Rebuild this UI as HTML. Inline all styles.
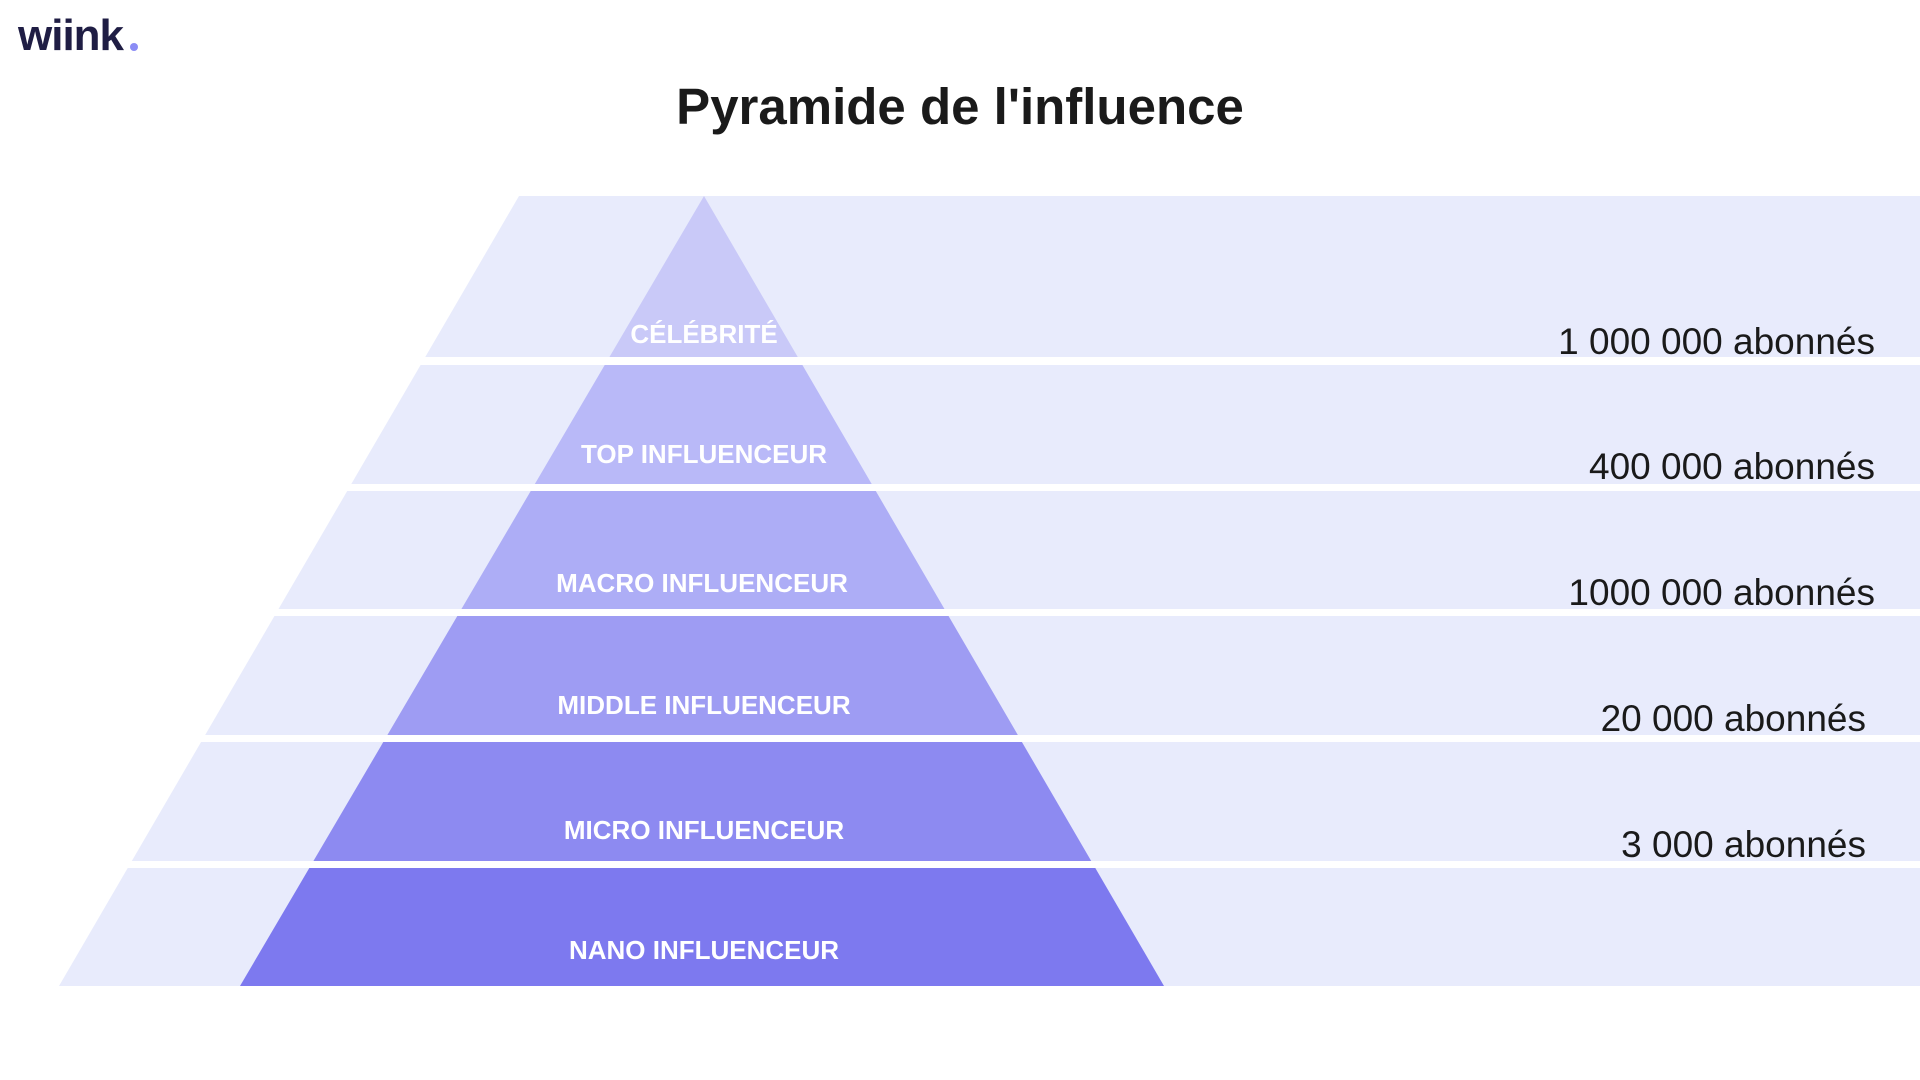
<!DOCTYPE html>
<html><head><meta charset="utf-8"><style>
html,body{margin:0;padding:0;background:#fff;}
body{width:1920px;height:1080px;position:relative;overflow:hidden;font-family:"Liberation Sans",sans-serif;}
svg{position:absolute;left:0;top:0;}
</style></head><body>
<svg width="1920" height="1080" viewBox="0 0 1920 1080">
  <text x="18" y="50" font-family="Liberation Sans, sans-serif" font-weight="bold" font-size="44" fill="#1f1d44" letter-spacing="-1">wiink</text>
  <circle cx="134" cy="47" r="4" fill="#8b8cf5"/>
  <text x="960" y="124" text-anchor="middle" font-family="Liberation Sans, sans-serif" font-weight="bold" font-size="51" fill="#1a1a1a">Pyramide de l'influence</text>

  <polygon points="519,196 1920,196 1920,986 59,986" fill="#e8ebfc"/>
  <defs><clipPath id="tri"><polygon points="704,196 1164,986 240,986"/></clipPath></defs>
  <g clip-path="url(#tri)">
    <rect x="0" y="196" width="1920" height="161" fill="#c9c9f8"/>
    <rect x="0" y="365" width="1920" height="119" fill="#b9b9f8"/>
    <rect x="0" y="491" width="1920" height="118" fill="#adadf6"/>
    <rect x="0" y="616" width="1920" height="119" fill="#9e9cf3"/>
    <rect x="0" y="742" width="1920" height="119" fill="#8d8af1"/>
    <rect x="0" y="868" width="1920" height="118" fill="#7d79ef"/>
  </g>
  <g fill="#fff">
    <rect x="0" y="357" width="1920" height="8"/>
    <rect x="0" y="484" width="1920" height="7"/>
    <rect x="0" y="609" width="1920" height="7"/>
    <rect x="0" y="735" width="1920" height="7"/>
    <rect x="0" y="861" width="1920" height="7"/>
  </g>
  <g fill="#fff" font-family="Liberation Sans, sans-serif" font-weight="bold" font-size="26" text-anchor="middle">
    <text x="704" y="343">CÉLÉBRITÉ</text>
    <text x="704" y="463">TOP INFLUENCEUR</text>
    <text x="702" y="592">MACRO INFLUENCEUR</text>
    <text x="704" y="714">MIDDLE INFLUENCEUR</text>
    <text x="704" y="839">MICRO INFLUENCEUR</text>
    <text x="704" y="959">NANO INFLUENCEUR</text>
  </g>
  <g fill="#1a1a1a" font-family="Liberation Sans, sans-serif" font-size="37" text-anchor="end">
    <text x="1875" y="354">1 000 000 abonnés</text>
    <text x="1875" y="479">400 000 abonnés</text>
    <text x="1875" y="605">1000 000 abonnés</text>
    <text x="1866" y="731">20 000 abonnés</text>
    <text x="1866" y="857">3 000 abonnés</text>
  </g>
</svg>
</body></html>
